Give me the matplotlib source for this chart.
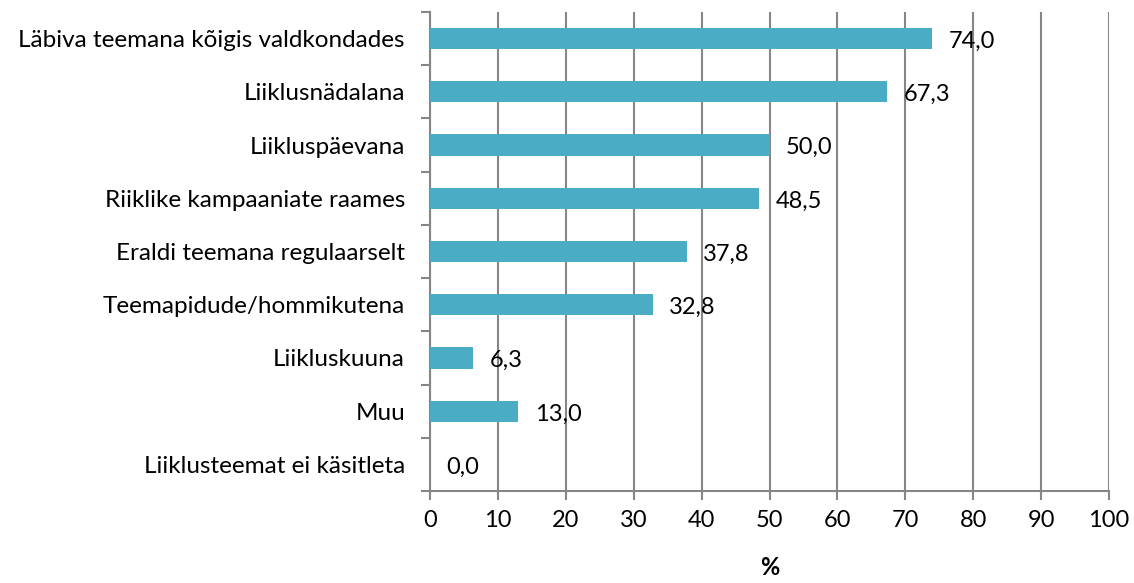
import matplotlib
matplotlib.use("Agg")
import matplotlib.pyplot as plt

categories = [
    "Läbiva teemana kõigis valdkondades",
    "Liiklusnädalana",
    "Liikluspäevana",
    "Riiklike kampaaniate raames",
    "Eraldi teemana regulaarselt",
    "Teemapidude/hommikutena",
    "Liikluskuuna",
    "Muu",
    "Liiklusteemat ei käsitleta",
]
values = [74.0, 67.3, 50.0, 48.5, 37.8, 32.8, 6.3, 13.0, 0.0]
xticks = list(range(0, 101, 10))

plt.rcParams['font.family'] = ['Lato', 'DejaVu Sans']
fig = plt.figure(figsize=(11.34, 5.83), dpi=100)
ax = fig.add_axes([430/1134, 1-491/583, (1109-430)/1134, (491-12)/583])

n = len(categories)
ypos = list(range(n))
ax.barh(ypos, values, height=0.4, color="#4BACC6", zorder=3)
ax.set_ylim(n - 0.5, -0.5)
ax.set_xlim(0, 100)
ax.set_xticks(xticks)
ax.set_xticklabels([str(t) for t in xticks], fontsize=17)
ax.set_yticks(ypos)
ax.set_yticklabels(categories, fontsize=17.5)
ax.tick_params(axis='y', length=0, pad=18)
ax.set_yticks([i - 0.5 for i in range(n + 1)], minor=True)
ax.tick_params(axis='y', which='minor', length=6.5, color="#868686", width=1.5)
ax.tick_params(axis='x', length=6.5, color="#868686", width=1.5, pad=7)
ax.grid(axis='x', color="#868686", linewidth=1.5, zorder=0)
for s in ['top', 'right']:
    ax.spines[s].set_visible(False)
for s in ['left', 'bottom']:
    ax.spines[s].set_color("#868686")
    ax.spines[s].set_linewidth(1.5)

for y, v in zip(ypos, values):
    ax.annotate(f"{v:.1f}".replace('.', ','), (v, y), xytext=(12, -2),
                textcoords='offset points', va='center', ha='left', fontsize=17)

ax.set_xlabel("%", fontsize=17, fontweight='bold', labelpad=18)
fig.savefig("out.png", dpi=100)
